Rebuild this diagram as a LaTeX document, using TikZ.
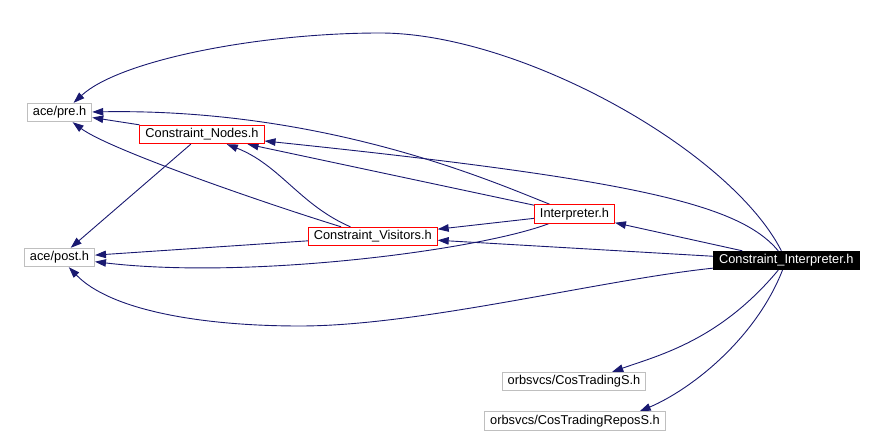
\documentclass[tikz,border=0pt]{standalone}
\usepackage{fontspec}
\setmainfont{Liberation Sans}
\usetikzlibrary{arrows.meta,backgrounds}
\definecolor{edgeblue}{RGB}{25,25,112}
\definecolor{boxgray}{RGB}{191,191,191}

\begin{document}
\begin{tikzpicture}[x=1pt,y=-1pt,
  hdr/.style={draw=boxgray,line width=0.9pt,fill=white,inner xsep=5.5pt,inner ysep=0pt,
    minimum height=18.5pt,font=\fontsize{12.8}{14}\selectfont},
  dochdr/.style={hdr,draw=red},
  mainhdr/.style={hdr,draw=black,fill=black,text=white},
  incl/.style={draw=edgeblue,line width=0.9pt,-{Triangle[length=11pt,width=7.5pt]}}]
  \useasboundingbox (0,0) rectangle (884,435);
  % header files
  \node[hdr] (pre) at (59.6,112.5) {ace/pre.h};
  \node[hdr] (post) at (59.5,257.5) {ace/post.h};
  \node[dochdr] (cnodes) at (202,134.5) {Constraint\_Nodes.h};
  \node[dochdr] (cvisitors) at (372.8,236.5) {Constraint\_Visitors.h};
  \node[dochdr] (interp) at (574.5,213.8) {Interpreter.h};
  \node[mainhdr] (cinterp) at (786.3,260.5) {Constraint\_Interpreter.h};
  \node[hdr] (costrading) at (574,381.5) {orbsvcs/CosTradingS.h};
  \node[hdr] (costradingrepos) at (575,421) {orbsvcs/CosTradingReposS.h};
  \begin{scope}[on background layer]
  % Constraint_Nodes.h
  \draw[incl] (cnodes) -- (pre);
  \draw[incl] (cnodes) -- (post);
  % Constraint_Visitors.h
  \draw[incl] (cvisitors) .. controls (270,205) and (110,150) .. (pre);
  \draw[incl] (cvisitors) .. controls (300,205) and (280,165) .. (cnodes);
  \draw[incl] (cvisitors) -- (post);
  % Interpreter.h
  \draw[incl] (interp) .. controls (500,185) and (330,108) .. (pre);
  \draw[incl] (interp) -- (cnodes);
  \draw[incl] (interp) -- (cvisitors);
  \draw[incl] (interp) .. controls (480,250) and (250,280) .. (post);
  % Constraint_Interpreter.h
  \draw[incl] (cinterp) .. controls (730,150) and (520,33) .. (380,33)
    .. controls (260,33) and (120,60) .. ([xshift=14pt]pre.north);
  \draw[incl] (cinterp) .. controls (600,280) and (420,326) .. (300,326)
    .. controls (200,326) and (110,310) .. (post);
  \draw[incl] (cinterp) .. controls (740,205) and (640,180) .. (cnodes);
  \draw[incl] (cinterp) -- (cvisitors);
  \draw[incl] (cinterp) -- (interp);
  \draw[incl] (cinterp) .. controls (720,340) and (660,355) .. ([xshift=-34pt]costrading.north east);
  \draw[incl] (cinterp) .. controls (755,340) and (690,390) .. ([xshift=-26pt]costradingrepos.north east);
  \end{scope}
\end{tikzpicture}
\end{document}
